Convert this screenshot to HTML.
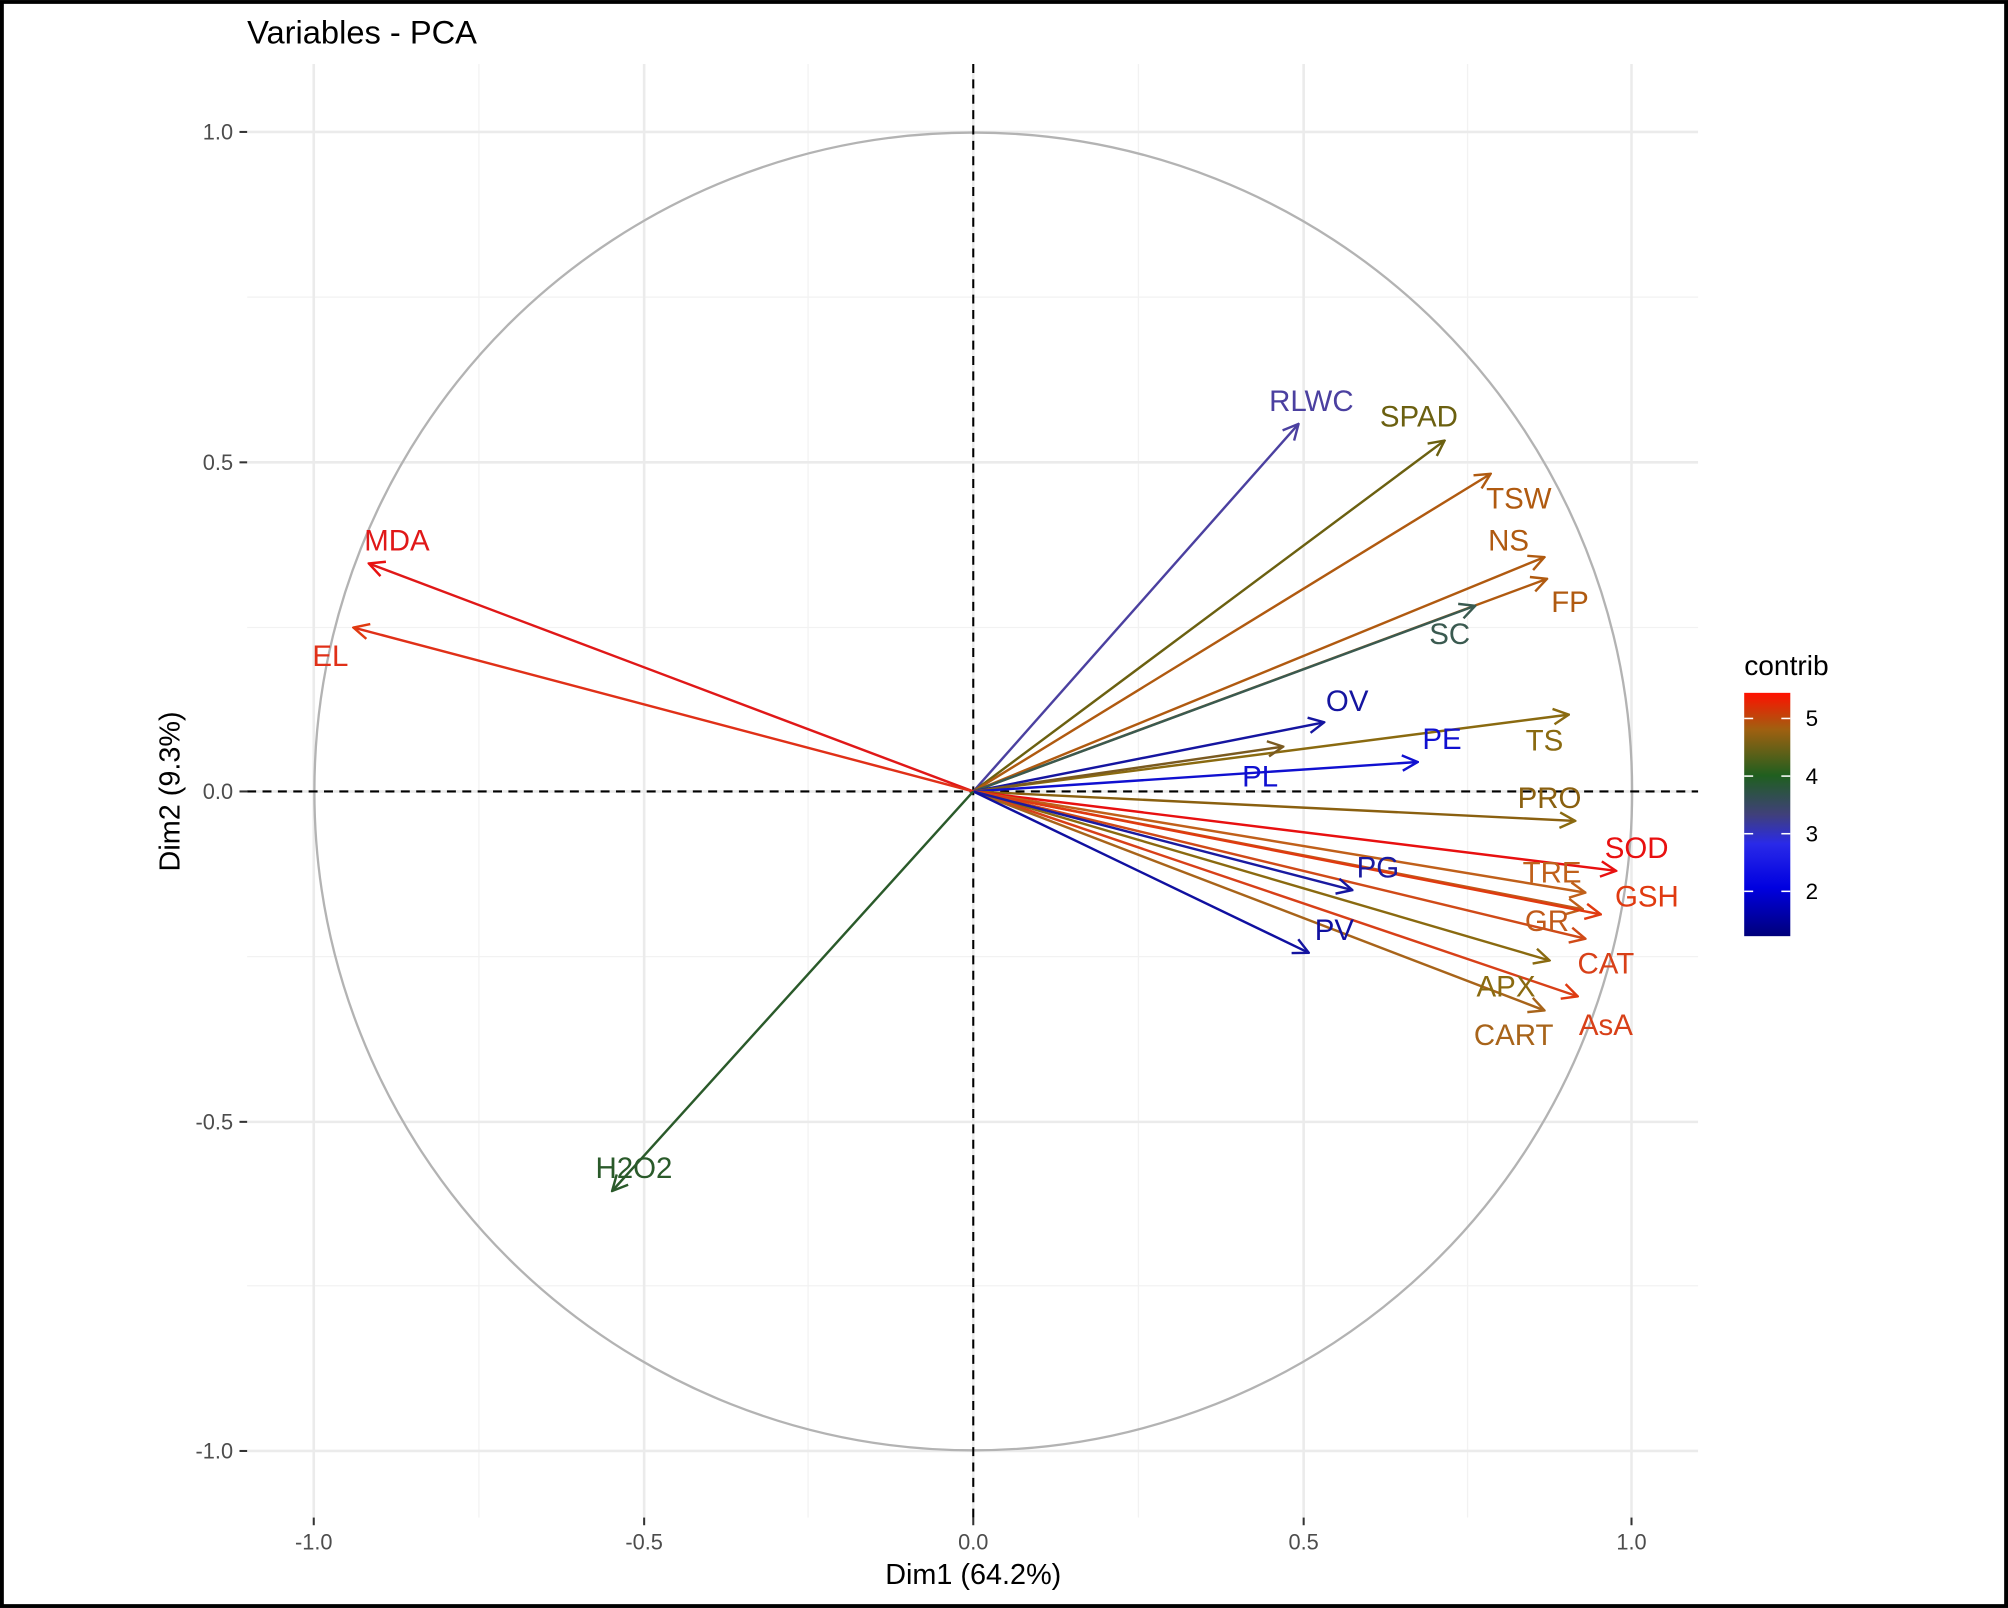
<!DOCTYPE html>
<html><head><meta charset="utf-8"><style>
html,body{margin:0;padding:0;background:#fff}
svg{display:block}
text{font-family:"Liberation Sans",sans-serif}
</style></head><body>
<svg width="2008" height="1608" viewBox="0 0 1568 1255.6" xmlns="http://www.w3.org/2000/svg">
<defs>
<linearGradient id="g" x1="0" y1="1" x2="0" y2="0">
<stop offset="0" stop-color="#00007a"/>
<stop offset="0.2" stop-color="#0000e0"/>
<stop offset="0.38" stop-color="#2a2ae8"/>
<stop offset="0.5" stop-color="#40407a"/>
<stop offset="0.66" stop-color="#1f5f1f"/>
<stop offset="0.85" stop-color="#a06010"/>
<stop offset="1" stop-color="#ff1000"/>
</linearGradient>
<marker id="m1" viewBox="0 0 14 14" refX="13" refY="7" markerWidth="14" markerHeight="14" markerUnits="userSpaceOnUse" orient="auto"><path d="M1,1 L13,7 L1,13" fill="none" stroke="#e81010" stroke-width="1.9"/></marker>
<marker id="m2" viewBox="0 0 14 14" refX="13" refY="7" markerWidth="14" markerHeight="14" markerUnits="userSpaceOnUse" orient="auto"><path d="M1,1 L13,7 L1,13" fill="none" stroke="#c0601a" stroke-width="1.9"/></marker>
<marker id="m3" viewBox="0 0 14 14" refX="13" refY="7" markerWidth="14" markerHeight="14" markerUnits="userSpaceOnUse" orient="auto"><path d="M1,1 L13,7 L1,13" fill="none" stroke="#e03a10" stroke-width="1.9"/></marker>
<marker id="m4" viewBox="0 0 14 14" refX="13" refY="7" markerWidth="14" markerHeight="14" markerUnits="userSpaceOnUse" orient="auto"><path d="M1,1 L13,7 L1,13" fill="none" stroke="#8a6a10" stroke-width="1.9"/></marker>
<marker id="m5" viewBox="0 0 14 14" refX="13" refY="7" markerWidth="14" markerHeight="14" markerUnits="userSpaceOnUse" orient="auto"><path d="M1,1 L13,7 L1,13" fill="none" stroke="#1515a0" stroke-width="1.9"/></marker>
<marker id="m6" viewBox="0 0 14 14" refX="13" refY="7" markerWidth="14" markerHeight="14" markerUnits="userSpaceOnUse" orient="auto"><path d="M1,1 L13,7 L1,13" fill="none" stroke="#1010d0" stroke-width="1.9"/></marker>
<marker id="m7" viewBox="0 0 14 14" refX="13" refY="7" markerWidth="14" markerHeight="14" markerUnits="userSpaceOnUse" orient="auto"><path d="M1,1 L13,7 L1,13" fill="none" stroke="#4b40a0" stroke-width="1.9"/></marker>
<marker id="m8" viewBox="0 0 14 14" refX="13" refY="7" markerWidth="14" markerHeight="14" markerUnits="userSpaceOnUse" orient="auto"><path d="M1,1 L13,7 L1,13" fill="none" stroke="#6b6010" stroke-width="1.9"/></marker>
<marker id="m9" viewBox="0 0 14 14" refX="13" refY="7" markerWidth="14" markerHeight="14" markerUnits="userSpaceOnUse" orient="auto"><path d="M1,1 L13,7 L1,13" fill="none" stroke="#b05a10" stroke-width="1.9"/></marker>
<marker id="m10" viewBox="0 0 14 14" refX="13" refY="7" markerWidth="14" markerHeight="14" markerUnits="userSpaceOnUse" orient="auto"><path d="M1,1 L13,7 L1,13" fill="none" stroke="#3a5a50" stroke-width="1.9"/></marker>
<marker id="m11" viewBox="0 0 14 14" refX="13" refY="7" markerWidth="14" markerHeight="14" markerUnits="userSpaceOnUse" orient="auto"><path d="M1,1 L13,7 L1,13" fill="none" stroke="#2a5a2a" stroke-width="1.9"/></marker>
<marker id="m12" viewBox="0 0 14 14" refX="13" refY="7" markerWidth="14" markerHeight="14" markerUnits="userSpaceOnUse" orient="auto"><path d="M1,1 L13,7 L1,13" fill="none" stroke="#7a5a20" stroke-width="1.9"/></marker>
<marker id="m13" viewBox="0 0 14 14" refX="13" refY="7" markerWidth="14" markerHeight="14" markerUnits="userSpaceOnUse" orient="auto"><path d="M1,1 L13,7 L1,13" fill="none" stroke="#d04a18" stroke-width="1.9"/></marker>
<marker id="m14" viewBox="0 0 14 14" refX="13" refY="7" markerWidth="14" markerHeight="14" markerUnits="userSpaceOnUse" orient="auto"><path d="M1,1 L13,7 L1,13" fill="none" stroke="#a8641a" stroke-width="1.9"/></marker>
</defs>
<rect x="0" y="0" width="1568" height="1255.6" fill="#fff"/>
<g stroke="#f2f2f2" stroke-width="1">
<line x1="374" y1="50" x2="374" y2="1185"/><line x1="631" y1="50" x2="631" y2="1185"/>
<line x1="889" y1="50" x2="889" y2="1185"/><line x1="1146" y1="50" x2="1146" y2="1185"/>
<line x1="193" y1="232" x2="1326" y2="232"/><line x1="193" y1="490" x2="1326" y2="490"/>
<line x1="193" y1="747" x2="1326" y2="747"/><line x1="193" y1="1004" x2="1326" y2="1004"/>
</g>
<g stroke="#ebebeb" stroke-width="2">
<line x1="245" y1="50" x2="245" y2="1185"/><line x1="503" y1="50" x2="503" y2="1185"/>
<line x1="760" y1="50" x2="760" y2="1185"/><line x1="1018" y1="50" x2="1018" y2="1185"/>
<line x1="1274" y1="50" x2="1274" y2="1185"/>
<line x1="193" y1="103" x2="1326" y2="103"/><line x1="193" y1="361" x2="1326" y2="361"/>
<line x1="193" y1="618" x2="1326" y2="618"/><line x1="193" y1="876" x2="1326" y2="876"/>
<line x1="193" y1="1133" x2="1326" y2="1133"/>
</g>
<circle cx="760" cy="618" r="514.5" fill="none" stroke="#b3b3b3" stroke-width="1.8"/>
<g stroke="#000" stroke-width="1.6" stroke-dasharray="7,5">
<line x1="760" y1="50" x2="760" y2="1185"/>
<line x1="193" y1="618" x2="1326" y2="618"/>
</g>
<g stroke-width="1.9" fill="none">
<line x1="760" y1="618" x2="1014" y2="331" stroke="#4b40a0" marker-end="url(#m7)"/>
<line x1="760" y1="618" x2="1128" y2="344" stroke="#6b6010" marker-end="url(#m8)"/>
<line x1="760" y1="618" x2="1164" y2="370" stroke="#b05a10" marker-end="url(#m9)"/>
<line x1="760" y1="618" x2="1206" y2="435" stroke="#b05a10" marker-end="url(#m9)"/>
<line x1="760" y1="618" x2="1208" y2="452" stroke="#b05a10" marker-end="url(#m9)"/>
<line x1="760" y1="618" x2="1152" y2="473" stroke="#3a5a50" marker-end="url(#m10)"/>
<line x1="760" y1="618" x2="1034" y2="564" stroke="#1515a0" marker-end="url(#m5)"/>
<line x1="760" y1="618" x2="1225" y2="558" stroke="#8a6a10" marker-end="url(#m4)"/>
<line x1="760" y1="618" x2="1002" y2="583" stroke="#7a5a20" marker-end="url(#m12)"/>
<line x1="760" y1="618" x2="1107" y2="595" stroke="#1010d0" marker-end="url(#m6)"/>
<line x1="760" y1="618" x2="1230" y2="641" stroke="#8a6010" marker-end="url(#m4)"/>
<line x1="760" y1="618" x2="1262" y2="680" stroke="#e81010" marker-end="url(#m1)"/>
<line x1="760" y1="618" x2="1238" y2="697" stroke="#c0601a" marker-end="url(#m2)"/>
<line x1="760" y1="618" x2="1236" y2="710" stroke="#c05a1a" marker-end="url(#m2)"/>
<line x1="760" y1="618" x2="1250" y2="714" stroke="#e03a10" marker-end="url(#m3)"/>
<line x1="760" y1="618" x2="1238" y2="733" stroke="#d04a18" marker-end="url(#m13)"/>
<line x1="760" y1="618" x2="1210" y2="750" stroke="#8a6a10" marker-end="url(#m4)"/>
<line x1="760" y1="618" x2="1232" y2="778" stroke="#d84018" marker-end="url(#m3)"/>
<line x1="760" y1="618" x2="1206" y2="789" stroke="#a8641a" marker-end="url(#m14)"/>
<line x1="760" y1="618" x2="1056" y2="695" stroke="#1a1aa0" marker-end="url(#m5)"/>
<line x1="760" y1="618" x2="1022" y2="744" stroke="#1010a0" marker-end="url(#m5)"/>
<line x1="760" y1="618" x2="288" y2="440" stroke="#e01818" marker-end="url(#m1)"/>
<line x1="760" y1="618" x2="276" y2="490" stroke="#e03018" marker-end="url(#m3)"/>
<line x1="760" y1="618" x2="478" y2="930" stroke="#2a5a2a" marker-end="url(#m11)"/>
</g>
<g font-size="23" text-anchor="middle">
<text x="1024" y="321" fill="#4b40a0">RLWC</text>
<text x="1108" y="333" fill="#6b6010">SPAD</text>
<text x="1186" y="397" fill="#b05a10">TSW</text>
<text x="1178" y="430" fill="#b05a10">NS</text>
<text x="1226" y="478" fill="#b05a10">FP</text>
<text x="1132" y="503" fill="#3a5a50">SC</text>
<text x="1052" y="555" fill="#1515a0">OV</text>
<text x="1126" y="585" fill="#1010d0">PE</text>
<text x="1206" y="586" fill="#8a6a10">TS</text>
<text x="984" y="614" fill="#1010d0">PL</text>
<text x="1210" y="631" fill="#8a6010">PRO</text>
<text x="1278" y="670" fill="#e81010">SOD</text>
<text x="1212" y="689" fill="#c0601a">TRE</text>
<text x="1076" y="685" fill="#1a1aa0">PG</text>
<text x="1286" y="708" fill="#e03a10">GSH</text>
<text x="1208" y="727" fill="#c05a1a">GR</text>
<text x="1042" y="734" fill="#1010a0">PV</text>
<text x="1254" y="760" fill="#d84018">CAT</text>
<text x="1176" y="778" fill="#8a6a10">APX</text>
<text x="1254" y="808" fill="#d84018">AsA</text>
<text x="1182" y="816" fill="#a8641a">CART</text>
<text x="310" y="430" fill="#e01818">MDA</text>
<text x="258" y="520" fill="#e03018">EL</text>
<text x="495" y="920" fill="#2a5a2a">H2O2</text>
</g>
<g stroke="#333" stroke-width="1.6">
<line x1="187" y1="103" x2="193" y2="103"/><line x1="187" y1="361" x2="193" y2="361"/>
<line x1="187" y1="618" x2="193" y2="618"/><line x1="187" y1="876" x2="193" y2="876"/>
<line x1="187" y1="1133" x2="193" y2="1133"/>
<line x1="245" y1="1185" x2="245" y2="1191"/><line x1="503" y1="1185" x2="503" y2="1191"/>
<line x1="760" y1="1185" x2="760" y2="1191"/><line x1="1018" y1="1185" x2="1018" y2="1191"/>
<line x1="1274" y1="1185" x2="1274" y2="1191"/>
</g>
<g font-size="17" fill="#4d4d4d" text-anchor="end">
<text x="182" y="109">1.0</text><text x="182" y="367">0.5</text>
<text x="182" y="624">0.0</text><text x="182" y="882">-0.5</text>
<text x="182" y="1139">-1.0</text>
</g>
<g font-size="17" fill="#4d4d4d" text-anchor="middle">
<text x="245" y="1210">-1.0</text><text x="503" y="1210">-0.5</text>
<text x="760" y="1210">0.0</text><text x="1018" y="1210">0.5</text>
<text x="1274" y="1210">1.0</text>
</g>
<text x="760" y="1237" font-size="22.5" text-anchor="middle" fill="#000">Dim1 (64.2%)</text>
<text transform="translate(140,618) rotate(-90)" font-size="22.5" text-anchor="middle" fill="#000">Dim2 (9.3%)</text>
<text x="193" y="34" font-size="25.5" fill="#000">Variables - PCA</text>
<text x="1362" y="527" font-size="22" fill="#000">contrib</text>
<rect x="1362" y="541" width="36" height="190" fill="url(#g)"/>
<g stroke="#fff" stroke-width="1.2">
<line x1="1362" y1="561" x2="1369" y2="561"/><line x1="1391" y1="561" x2="1398" y2="561"/>
<line x1="1362" y1="606" x2="1369" y2="606"/><line x1="1391" y1="606" x2="1398" y2="606"/>
<line x1="1362" y1="651" x2="1369" y2="651"/><line x1="1391" y1="651" x2="1398" y2="651"/>
<line x1="1362" y1="696" x2="1369" y2="696"/><line x1="1391" y1="696" x2="1398" y2="696"/>
</g>
<g font-size="17.5" fill="#000">
<text x="1410" y="567">5</text><text x="1410" y="612">4</text>
<text x="1410" y="657">3</text><text x="1410" y="702">2</text>
</g>
<rect x="1.5" y="1.5" width="1565" height="1252.6" fill="none" stroke="#000" stroke-width="3"/>
</svg>
</body></html>
